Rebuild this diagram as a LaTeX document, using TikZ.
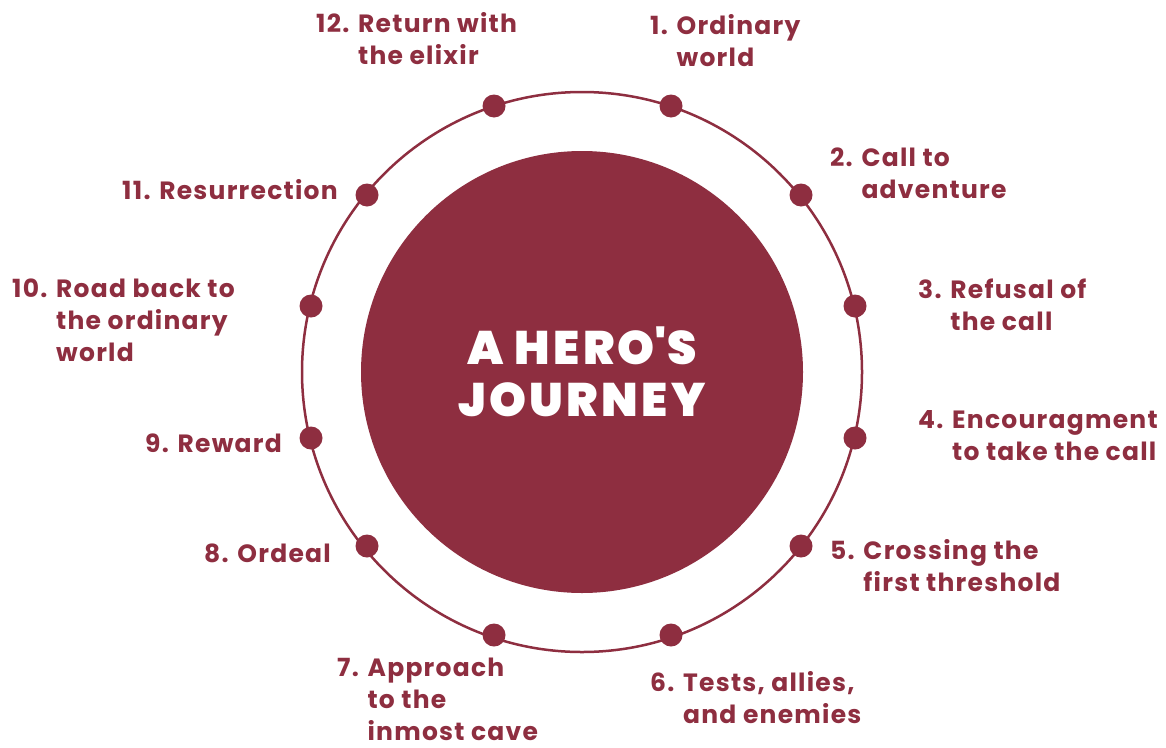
\documentclass[tikz,border=0pt]{standalone}
\usepackage{fontspec}
\setmainfont{Poppins}
\newfontfamily\labelfont{Poppins}[LetterSpace=5]
\IfFontExistsTF{Poppins ExtraBold}
  {\newfontfamily\titlefont{Poppins ExtraBold}[LetterSpace=7]}
  {\newfontfamily\titlefont{Poppins}[LetterSpace=9]}
\definecolor{hero}{HTML}{8E2E40}
\tikzset{
  stagedot/.style={circle, fill=hero, inner sep=0pt, minimum size=23pt},
  stagelabel/.style={anchor=base west, inner sep=0pt, text=hero,
    font=\labelfont\fontsize{25}{32}\selectfont\bfseries}
}
\newcommand\stagetext[2]{\begin{tabular}[t]{@{}l@{ }l@{}}#1 & #2\end{tabular}}

\begin{document}
\begin{tikzpicture}[x=1pt,y=-1pt]

\newcommand\CX{582}
\newcommand\CY{372}

  \useasboundingbox (0,0) rectangle (1166,747);

  %% ring and core
  \draw[hero, line width=2.5pt] (\CX,\CY) circle (280pt);
  \node[circle, fill=hero, minimum size=442pt, inner sep=0pt, text=white,
    align=center, font=\titlefont\fontsize{47}{52}\selectfont\bfseries]
    (core) at (\CX,\CY) {A HERO\textquotesingle S\\JOURNEY};

  %% stages on the ring
  \node[stagedot] (s1)  at (671,106) {};
  \node[stagedot] (s2)  at (801,195) {};
  \node[stagedot] (s3)  at (855,306) {};
  \node[stagedot] (s4)  at (855,438) {};
  \node[stagedot] (s5)  at (801,546) {};
  \node[stagedot] (s6)  at (671,635) {};
  \node[stagedot] (s7)  at (494,635) {};
  \node[stagedot] (s8)  at (367,546) {};
  \node[stagedot] (s9)  at (311,438) {};
  \node[stagedot] (s10) at (311,306) {};
  \node[stagedot] (s11) at (367,195) {};
  \node[stagedot] (s12) at (494,106) {};

  %% labels
  \node[stagelabel] (l1)  at (650,34)  {\stagetext{1.}{Ordinary\\ & world}};
  \node[stagelabel] (l2)  at (830,166) {\stagetext{2.}{Call to\\ & adventure}};
  \node[stagelabel] (l3)  at (918,298) {\stagetext{3.}{Refusal of\\ & the call}};
  \node[stagelabel] (l4)  at (918,428) {\stagetext{4.}{Encouragment\\ & to take the call}};
  \node[stagelabel] (l5)  at (830,559) {\stagetext{5.}{Crossing the\\ & first threshold}};
  \node[stagelabel] (l6)  at (650,691) {\stagetext{6.}{Tests, allies,\\ & and enemies}};
  \node[stagelabel] (l7)  at (337,676) {\stagetext{7.}{Approach\\ & to the\\ & inmost cave}};
  \node[stagelabel] (l8)  at (204,562) {\stagetext{8.}{Ordeal}};
  \node[stagelabel] (l9)  at (145,452) {\stagetext{9.}{Reward}};
  \node[stagelabel] (l10) at (12,297)  {\stagetext{10.}{Road back to\\ & the ordinary\\ & world}};
  \node[stagelabel] (l11) at (122,199) {\stagetext{11.}{Resurrection}};
  \node[stagelabel] (l12) at (316,32)  {\stagetext{12.}{Return with\\ & the elixir}};

\end{tikzpicture}
\end{document}
